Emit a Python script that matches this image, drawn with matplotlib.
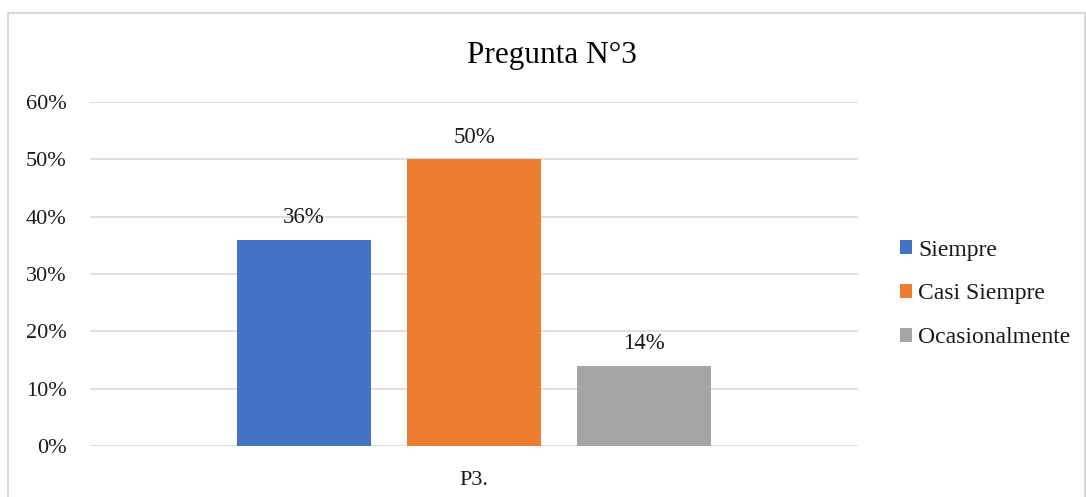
import matplotlib.pyplot as plt
import matplotlib.patches as patches
from matplotlib.ticker import PercentFormatter

# Dati
categoria = "P3."
serie = ["Siempre", "Casi Siempre", "Ocasionalmente"]
valori = [0.36, 0.50, 0.14]
colori = ["#4472C4", "#ED7D31", "#A5A5A5"]
etichette_y = [0, 0.1, 0.2, 0.3, 0.4, 0.5, 0.6]

plt.rcParams['font.family'] = ['Liberation Serif', 'DejaVu Serif']

W, H = 1086, 497
fig = plt.figure(figsize=(W / 100, H / 100), dpi=100)

# Bordo del grafico
bordo = patches.Rectangle((8 / W, -0.05), (1085 - 8) / W, 1.05 - 13 / H,
                          transform=fig.transFigure, fill=False,
                          edgecolor='#D9D9D9', linewidth=1.5)
fig.patches.append(bordo)

ax = fig.add_axes([90 / W, 1 - 446 / H, (858 - 90) / W, (446 - 102) / H])

larghezza = 134 / 768
passo = 170 / 768
posizioni = [(i - 1) * passo for i in range(len(valori))]
barre = []
for x, v, c, nome in zip(posizioni, valori, colori, serie):
    b = ax.bar(x, v, width=larghezza, color=c, label=nome, zorder=3)
    barre.append(b)
    ax.text(x, v + 0.02, f"{v:.0%}", ha='center', va='bottom', fontsize=16.5,
            color='#1a1a1a')

ax.set_xlim(-0.5, 0.5)
ax.set_ylim(0, 0.6)
ax.set_yticks(etichette_y)
ax.yaxis.set_major_formatter(PercentFormatter(1.0, decimals=0))
ax.set_xticks([0])
ax.set_xticklabels([categoria])
ax.tick_params(axis='both', length=0, labelsize=16, colors='#1a1a1a')
ax.tick_params(axis='y', pad=17)
ax.tick_params(axis='x', pad=18)
ax.grid(axis='y', color='#D9D9D9', linewidth=1.2, zorder=0)
for s in ax.spines.values():
    s.set_visible(False)

fig.text(552 / W, 1 - 55 / H, "Pregunta N°3", ha='center', va='center',
         fontsize=22.5, color='#000000')

fig.legend(handles=barre, labels=serie, loc='center left',
           bbox_to_anchor=(879 / W, 1 - 294 / H), frameon=False,
           fontsize=17, handlelength=0.5, handleheight=0.5,
           handletextpad=0.25, labelspacing=0.97, labelcolor='#1a1a1a')

fig.savefig("out.png", dpi=100)
